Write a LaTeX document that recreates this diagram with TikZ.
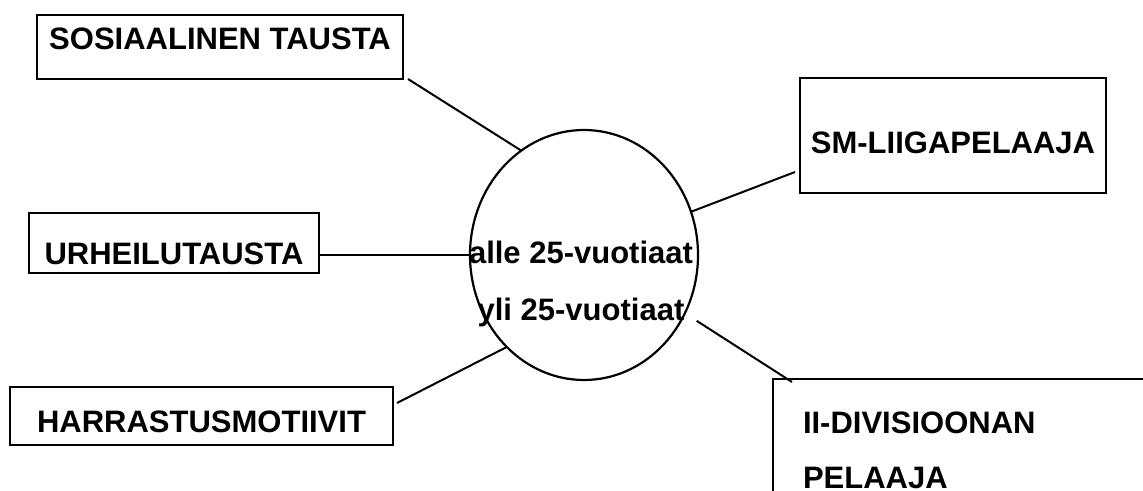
\documentclass[tikz,border=0pt]{standalone}
\usepackage{fontspec}
\setmainfont{Liberation Sans}
\usetikzlibrary{shapes.geometric}
\tikzset{
  topicbox/.style={
    draw=black, rectangle, anchor=north west, line width=1.6pt,
    inner xsep=0pt, inner ysep=0pt, outer sep=0pt,
    font=\fontsize{31}{55}\selectfont\bfseries
  },
  hubnode/.style={
    draw=black, ellipse, line width=2.2pt, inner sep=0pt, outer sep=0pt,
    minimum width=228pt, minimum height=250pt
  },
  hubtext/.style={
    inner sep=0pt, align=center, anchor=base,
    font=\fontsize{31}{57}\selectfont\bfseries
  },
  linkline/.style={draw=black, line width=2pt}
}
\begin{document}
\begin{tikzpicture}[x=1pt, y=-1pt]
  \clip (0,0) rectangle (1143,490);
  \node[topicbox, minimum width=366pt, text height=34pt, text depth=30pt] (social) at (37,15) {SOSIAALINEN TAUSTA};
  \node[topicbox, minimum width=290pt, text height=51pt, text depth=9pt] (sportbg) at (29,213) {URHEILUTAUSTA};
  \node[topicbox, minimum width=383pt, text height=45pt, text depth=13pt] (motives) at (10,387) {HARRASTUSMOTIIVIT};
  \node[topicbox, minimum width=306pt, text height=75pt, text depth=40pt] (smleague) at (800,78) {SM-LIIGAPELAAJA};
  \node[topicbox, text width=390pt, inner xsep=30pt, align=left, text height=54pt, text depth=95pt] (division) at (773,379) {II-DIVISIOONAN\\PELAAJA};
  \node[hubnode] (hub) at (584,255) {};
  \node[hubtext] (agegroups) at ([xshift=-3pt, yshift=-65pt]hub.center) {alle 25-vuotiaat\\yli 25-vuotiaat};
  \draw[linkline] ([xshift=5pt]social.south east) -- (hub.121);
  \draw[linkline] (sportbg.east |- hub.west) -- (hub.west);
  \draw[linkline] ([shift={(4pt,-16pt)}]motives.north east) -- (hub.230);
  \draw[linkline] (hub.22) -- ([shift={(-5pt,21pt)}]smleague.south west);
  \draw[linkline, shorten <=14pt] (hub.330) -- ([shift={(19pt,-3pt)}]division.north west);
\end{tikzpicture}
\end{document}
